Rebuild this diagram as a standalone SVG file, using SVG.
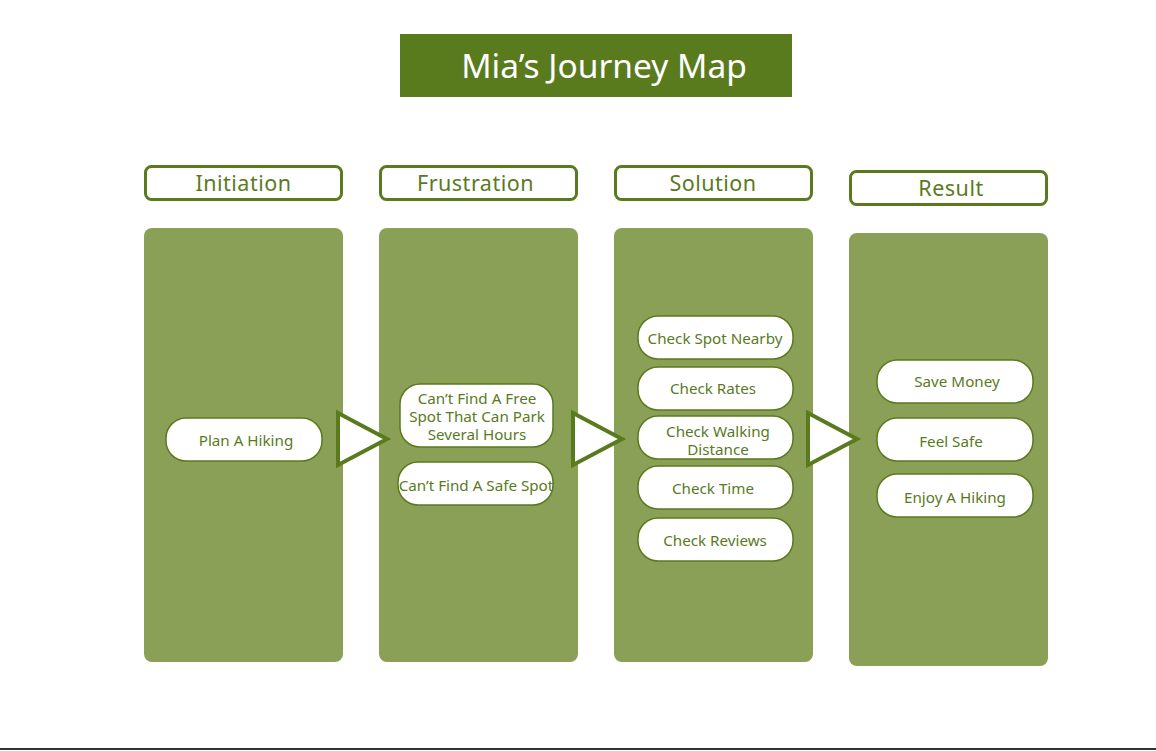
<svg xmlns="http://www.w3.org/2000/svg" width="1156" height="751" viewBox="0 0 1156 751">
<style>
.col{fill:#8ba057}
.hdr{fill:#fff;stroke:#5a7a1e;stroke-width:3}
.hdrt{font-family:"Noto Sans","Open Sans",sans-serif;font-size:21.5px;fill:#5a7a1e;text-anchor:middle;dominant-baseline:central;letter-spacing:0.5px}
.node rect{fill:#fff;stroke:#5a7a1e;stroke-width:1.5}
.node text{font-family:"Noto Sans","Open Sans",sans-serif;font-size:15.2px;fill:#5a7a1e;text-anchor:middle;dominant-baseline:central}
.arr{fill:#fff;stroke:#5a7a1e;stroke-width:4;stroke-linejoin:miter}
</style>
<rect width="1156" height="751" fill="#fff"/>
<g id="title">
<rect x="400" y="34" width="392" height="63" fill="#5a7a1e"/>
<text x="604" y="65" font-family="'Noto Sans','Open Sans',sans-serif" font-size="33.5" fill="#fff" text-anchor="middle" dominant-baseline="central">Mia’s Journey Map</text>
</g>
<g id="col-initiation">
<rect class="col" x="144" y="228" width="199" height="434" rx="8"/>
<rect class="hdr" x="145.5" y="166.5" width="196" height="33" rx="6"/>
<text class="hdrt" x="243.5" y="182.5">Initiation</text>
</g>
<g id="col-frustration">
<rect class="col" x="379" y="228" width="199" height="434" rx="8"/>
<rect class="hdr" x="380.5" y="166.5" width="196" height="33" rx="6"/>
<text class="hdrt" x="475.5" y="182.5">Frustration</text>
</g>
<g id="col-solution">
<rect class="col" x="614" y="228" width="199" height="434" rx="8"/>
<rect class="hdr" x="615.5" y="166.5" width="196" height="33" rx="6"/>
<text class="hdrt" x="713" y="182.5">Solution</text>
</g>
<g id="col-result">
<rect class="col" x="849" y="233" width="199" height="433" rx="8"/>
<rect class="hdr" x="850.5" y="171.5" width="196" height="33" rx="6"/>
<text class="hdrt" x="951" y="187.5">Result</text>
</g>
<g id="n-plan" class="node"><rect x="166" y="418" width="156" height="43" rx="20"/><text x="246" y="439.5">Plan A Hiking</text></g>
<g id="n-free" class="node"><rect x="400" y="384" width="153" height="63" rx="20"/><text x="477" y="397.5">Can’t Find A Free</text><text x="477" y="415.5">Spot That Can Park</text><text x="477" y="433.5">Several Hours</text></g>
<g id="n-safe" class="node"><rect x="398" y="462" width="155" height="43" rx="20"/><text x="476" y="484.5">Can’t Find A Safe Spot</text></g>
<g id="n-nearby" class="node"><rect x="638" y="316" width="155" height="43" rx="20"/><text x="715" y="338">Check Spot Nearby</text></g>
<g id="n-rates" class="node"><rect x="638" y="367" width="155" height="43" rx="20"/><text x="713" y="387.5">Check Rates</text></g>
<g id="n-walk" class="node"><rect x="638" y="416" width="155" height="43" rx="20"/><text x="718" y="430.5">Check Walking</text><text x="718" y="448.5">Distance</text></g>
<g id="n-time" class="node"><rect x="638" y="466" width="155" height="43" rx="20"/><text x="713" y="487.5">Check Time</text></g>
<g id="n-reviews" class="node"><rect x="638" y="518" width="155" height="43" rx="20"/><text x="715" y="539.5">Check Reviews</text></g>
<g id="n-money" class="node"><rect x="877" y="360" width="156" height="43" rx="20"/><text x="957" y="380.5">Save Money</text></g>
<g id="n-safe2" class="node"><rect x="877" y="418" width="156" height="43" rx="20"/><text x="951" y="440.5">Feel Safe</text></g>
<g id="n-enjoy" class="node"><rect x="877" y="474" width="156" height="43" rx="20"/><text x="955" y="496.5">Enjoy A Hiking</text></g>
<g id="connectors">
<polygon class="arr" points="338,413 387,439 338,465"/>
<polygon class="arr" points="573,413 622,439 573,465"/>
<polygon class="arr" points="808,413 857,439 808,465"/>
</g>
<line x1="0" y1="749" x2="1156" y2="749" stroke="#333" stroke-width="2"/>
</svg>
